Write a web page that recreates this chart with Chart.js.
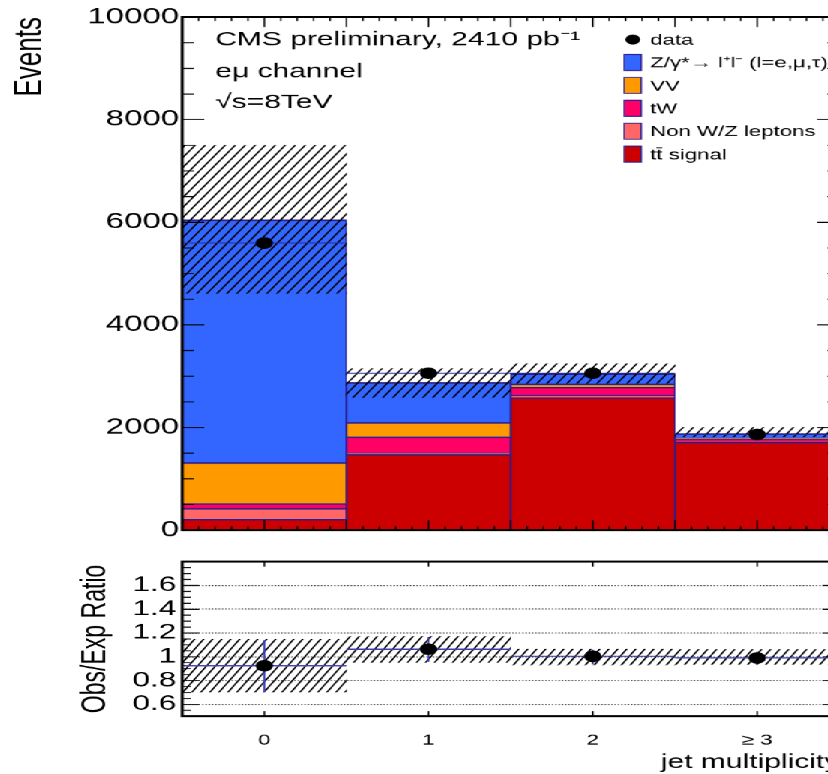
<!DOCTYPE html>
<html>
<head>
<meta charset="utf-8">
<title>Jet multiplicity, e-mu channel</title>
<script src="https://cdn.jsdelivr.net/npm/chart.js@4.4.1/dist/chart.umd.min.js"></script>
<style>
  html, body { margin: 0; padding: 0; background: #fff; overflow: hidden; width: 828px; height: 774px; }
  /* the figure is laid out on a 587px-wide stage and widened 1.5x, ROOT-canvas style */
  #stage { position: absolute; left: 0; top: 0; width: 587px; height: 774px; transform: scaleX(1.5); transform-origin: 0 0; }
  #main { position: absolute; left: 0; top: 0; }
  #ratio { position: absolute; left: 0; top: 545px; }
</style>
</head>
<body>
<div id="stage">
  <canvas id="main" width="587" height="545"></canvas>
  <canvas id="ratio" width="587" height="229"></canvas>
</div>
<script>
// ---- data -------------------------------------------------------------
const categories  = ['0', '1', '2', '≥ 3'];
const binCenters  = [0, 1, 2, 3];
const binEdges    = [-0.5, 0.5, 1.5, 2.5, 3.5];

const ttSignal    = [210, 1478, 2582, 1720];
const nonWZ       = [215, 30, 50, 15];
const tW          = [95, 310, 152, 43];
const VV          = [795, 280, 67, 15];
const DY          = [4732, 778, 196, 91];
const dataEvents  = [5596, 3059, 3059, 1865];
const mcUncLow    = [4616, 2588, 2865, 1818];
const mcUncHigh   = [7502, 3145, 3243, 2000];

const ratio        = [0.925, 1.064, 1.004, 0.99];
const ratioErrLow  = [0.705, 0.959, 0.937, 0.94];
const ratioErrHigh = [1.14, 1.165, 1.06, 1.045];
const ratioBandLow = [0.705, 0.953, 0.931, 0.935];
const ratioBandHigh= [1.146, 1.171, 1.063, 1.06];

const eventTicks  = [0, 2000, 4000, 6000, 8000, 10000];
const ratioTicks  = [0.6, 0.8, 1, 1.2, 1.4, 1.6];

const headerLines = ['CMS preliminary, 2410 pb⁻¹', 'eμ channel', '√s=8TeV'];
const legendOrder = ['data', 'Z/γ*→ l⁺l⁻ (l=e,μ,τ)', 'VV', 'tW', 'Non W/Z leptons', 'tt̄ signal'];

// ---- styling helpers ----------------------------------------------------
const FONT = "'Liberation Sans', Arial, Helvetica, sans-serif";
const EDGE = '#2b1d8f';
const AXIS_W = 121.3;     // width reserved for the y axis on both pads
const PAD_R = 27.7;
const DPR = 1.5;

// diagonal hatch, tile given in device pixels so the lines stay crisp
function hatch(canvasId, w, h, lw, color) {
  const c = document.createElement('canvas');
  c.width = w; c.height = h;
  const g = c.getContext('2d');
  g.strokeStyle = color; g.lineWidth = lw;
  g.beginPath();
  for (let k = -1; k <= 1; k++) { g.moveTo(k * w, h); g.lineTo(k * w + w, 0); }
  g.stroke();
  const p = document.getElementById(canvasId).getContext('2d').createPattern(c, 'repeat');
  if (p.setTransform) p.setTransform(new DOMMatrix().scaleSelf(1 / DPR, 1 / DPR));
  return p;
}

const pts = (vals) => binCenters.map((x, i) => ({ x, y: vals[i] }));
const floating = (lo, hi) => binCenters.map((x, i) => ({ x, y: [lo[i], hi[i]] }));
function horizSegments(vals) {
  const out = [];
  vals.forEach((v, i) => { out.push({ x: binEdges[i], y: v }, { x: binEdges[i + 1], y: v }, { x: binEdges[i + 1], y: null }); });
  return out;
}
function vertSegments(lo, hi) {
  const out = [];
  binCenters.forEach((c, i) => { out.push({ x: c, y: lo[i] }, { x: c, y: hi[i] }, { x: c, y: null }); });
  return out;
}
function mcSet(label, values, color) {
  return {
    type: 'bar', label, data: pts(values), backgroundColor: color,
    borderColor: EDGE, borderWidth: { top: 1.5, left: 1, right: 1, bottom: 0 }, borderSkipped: false,
    stack: 'mc', grouped: false, order: 3, barPercentage: 1, categoryPercentage: 1
  };
}

// ROOT-like frame with inward tick marks on all four sides
const rootFrame = {
  id: 'rootFrame',
  afterDatasetsDraw(chart, args, o) {
    const { ctx, chartArea: a, scales: { x, y } } = chart;
    ctx.save();
    ctx.strokeStyle = '#000';
    ctx.lineWidth = 1;
    ctx.beginPath();
    const yTick = (v, len) => {
      const py = y.getPixelForValue(v);
      ctx.moveTo(a.left, py); ctx.lineTo(a.left + len, py);
      ctx.moveTo(a.right, py); ctx.lineTo(a.right - len, py);
    };
    const xTick = (v, len) => {
      const px = x.getPixelForValue(v);
      ctx.moveTo(px, a.bottom); ctx.lineTo(px, a.bottom - len);
      ctx.moveTo(px, a.top); ctx.lineTo(px, a.top + len);
    };
    const steps = (min, max, step, fn, len) => {
      const n = Math.round((max - min) / step);
      for (let k = 0; k <= n; k++) fn(min + k * step, len);
    };
    if (o.yMinor) steps(y.min, y.max, o.yMinor, yTick, o.yMinLen);
    o.yMajor.forEach(v => yTick(v, o.yMajLen));
    if (o.xMinor) steps(x.min, x.max, o.xMinor, xTick, o.xMinLen);
    if (o.xMajorStep) steps(x.min, x.max, o.xMajorStep, xTick, o.xMajLen);
    if (o.xMajor) o.xMajor.forEach(v => xTick(v, o.xMajLen));
    ctx.stroke();
    ctx.lineWidth = 2;
    ctx.strokeRect(a.left, a.top, a.right - a.left, a.bottom - a.top);
    ctx.restore();
  }
};

// header text and legend of the upper pad
const annotations = {
  id: 'annotations',
  afterDraw(chart) {
    const ctx = chart.ctx;
    ctx.save();
    ctx.fillStyle = '#000';
    ctx.textAlign = 'left';
    ctx.textBaseline = 'alphabetic';
    ctx.font = `20px ${FONT}`;
    const baselines = [45, 77, 108];
    headerLines.forEach((t, i) => ctx.fillText(t, 143.3, baselines[i]));

    ctx.font = `14.8px ${FONT}`;
    ctx.textBaseline = 'middle';
    legendOrder.forEach((label, i) => {
      const cy = 39.5 + i * 22.9;
      const ds = chart.data.datasets.find(d => d.label === label);
      if (ds.type === 'bar') {
        ctx.fillStyle = ds.backgroundColor;
        ctx.fillRect(416, cy - 8, 11.3, 16);
        ctx.strokeStyle = EDGE; ctx.lineWidth = 1;
        ctx.strokeRect(416, cy - 8, 11.3, 16);
      } else {
        ctx.fillStyle = '#000';
        ctx.beginPath(); ctx.arc(421.7, cy, 5, 0, Math.PI * 2); ctx.fill();
      }
      ctx.fillStyle = '#000';
      ctx.fillText(label, 433.3, cy + 1);
    });
    ctx.restore();
  }
};

// ---- upper pad: stacked event yields --------------------------------
new Chart(document.getElementById('main'), {
  type: 'bar',
  data: {
    datasets: [
      mcSet('tt̄ signal', ttSignal, '#cc0000'),
      mcSet('Non W/Z leptons', nonWZ, '#ff6666'),
      mcSet('tW', tW, '#ff0066'),
      mcSet('VV', VV, '#ff9900'),
      mcSet('Z/γ*→ l⁺l⁻ (l=e,μ,τ)', DY, '#3366ff'),
      {
        type: 'bar', label: 'uncertainty', data: floating(mcUncLow, mcUncHigh),
        backgroundColor: hatch('main', 10, 15, 1.8, '#000'), borderWidth: 0,
        stack: 'unc', grouped: false, order: 2, barPercentage: 1, categoryPercentage: 1
      },
      {
        type: 'line', label: 'data x-width', data: horizSegments(dataEvents),
        borderColor: '#2a2aa0', borderWidth: 1, pointRadius: 0, spanGaps: false,
        stack: 'xw', order: 1
      },
      {
        type: 'line', label: 'data', data: pts(dataEvents), showLine: false,
        pointRadius: 5.3, pointBackgroundColor: '#000', pointBorderColor: '#000',
        stack: 'obs', order: 0
      }
    ]
  },
  options: {
    responsive: false, animation: false, devicePixelRatio: DPR,
    layout: { padding: { top: 17, right: PAD_R, bottom: 12, left: 0 } },
    plugins: {
      legend: { display: false }, tooltip: { enabled: false },
      rootFrame: { yMajor: eventTicks, yMinor: 500, yMajLen: 14.7, yMinLen: 8,
                   xMinor: 0.1, xMinLen: 4, xMajorStep: 0.5, xMajLen: 10 }
    },
    scales: {
      x: {
        type: 'linear', min: -0.5, max: 3.5, offset: false, display: false,
        afterBuildTicks(s) { s.ticks = binCenters.map(v => ({ value: v })); }
      },
      y: {
        min: 0, max: 10000, stacked: true,
        afterFit(s) { s.width = AXIS_W; },
        afterBuildTicks(s) { s.ticks = eventTicks.map(v => ({ value: v })); },
        grid: { display: false, drawTicks: false }, border: { display: false },
        ticks: { callback: v => String(v), font: { family: FONT, size: 22 }, color: '#000', padding: 2 },
        title: { display: true, text: 'Events', align: 'end', color: '#000',
                 font: { family: FONT, size: 26 }, padding: { top: 4.4, bottom: 0 } }
      }
    }
  },
  plugins: [rootFrame, annotations]
});

// ---- lower pad: observed / expected --------------------------------
new Chart(document.getElementById('ratio'), {
  type: 'bar',
  data: {
    datasets: [
      {
        type: 'bar', label: 'uncertainty', data: floating(ratioBandLow, ratioBandHigh),
        backgroundColor: hatch('ratio', 9, 15, 1.7, '#000'), borderWidth: 0,
        grouped: false, order: 2, barPercentage: 1, categoryPercentage: 1
      },
      {
        type: 'line', label: 'ratio x-width', data: horizSegments(ratio),
        borderColor: '#3c3cb4', borderWidth: 1.2, pointRadius: 0, spanGaps: false, order: 1
      },
      {
        type: 'line', label: 'ratio error', data: vertSegments(ratioErrLow, ratioErrHigh),
        borderColor: '#3c3cb4', borderWidth: 1.2, pointRadius: 0, spanGaps: false, order: 1
      },
      {
        type: 'line', label: 'ratio', data: pts(ratio), showLine: false,
        pointRadius: 5.3, pointBackgroundColor: '#000', pointBorderColor: '#000', order: 0
      }
    ]
  },
  options: {
    responsive: false, animation: false, devicePixelRatio: DPR,
    layout: { padding: { top: 13, right: PAD_R, bottom: 0, left: 0 } },
    plugins: {
      legend: { display: false }, tooltip: { enabled: false },
      rootFrame: { yMajor: ratioTicks, yMinor: 0.05, yMajLen: 11.3, yMinLen: 6,
                   xMajor: binCenters, xMajLen: 5 }
    },
    scales: {
      x: {
        type: 'linear', min: -0.5, max: 3.5, offset: false,
        afterFit(s) { s.height = 58; },
        afterBuildTicks(s) { s.ticks = binCenters.map(v => ({ value: v })); },
        grid: { display: false, drawTicks: false }, border: { display: false },
        ticks: { callback: (v, i) => categories[i], font: { family: FONT, size: 15 }, color: '#000',
                 padding: 15, autoSkip: false, maxRotation: 0 },
        title: { display: true, text: 'jet multiplicity', align: 'end', color: '#000',
                 font: { family: FONT, size: 20 }, padding: { top: 0, bottom: 0 } }
      },
      y: {
        min: 0.5, max: 1.8,
        afterFit(s) { s.width = AXIS_W; },
        afterBuildTicks(s) { s.ticks = ratioTicks.map(v => ({ value: v })); },
        grid: { display: true, drawTicks: false, color: '#333', lineWidth: 1 },
        border: { display: false, dash: [1, 1.2] },
        ticks: { callback: v => String(v), font: { family: FONT, size: 21 }, color: '#000', padding: 4 },
        title: { display: true, text: 'Obs/Exp Ratio', color: '#000',
                 font: { family: FONT, size: 23 }, padding: { top: 50, bottom: 0 } }
      }
    }
  },
  plugins: [rootFrame]
});
</script>
</body>
</html>
